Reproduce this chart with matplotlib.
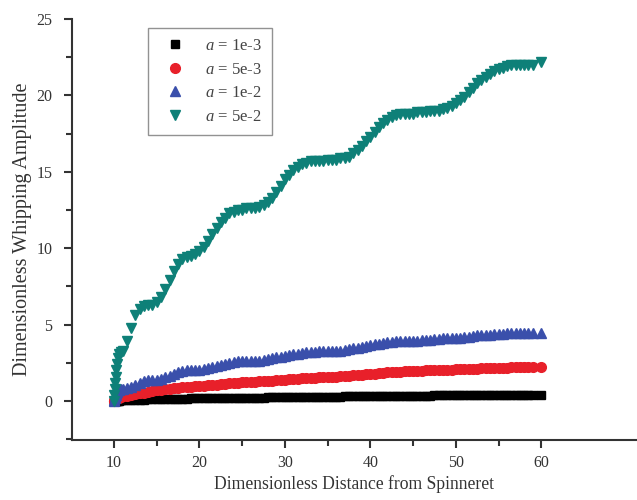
# Dimensionless whipping amplitude vs distance from spinneret
import matplotlib
matplotlib.use('Agg')
import matplotlib.pyplot as plt
from matplotlib.ticker import MultipleLocator, FixedLocator

plt.rcParams['font.family'] = ['Liberation Serif', 'DejaVu Serif']
plt.rcParams['mathtext.fontset'] = 'custom'
plt.rcParams['mathtext.it'] = 'Liberation Serif:italic'
plt.rcParams['mathtext.rm'] = 'Liberation Serif'

# shared distance values
x = [10.0, 10.05, 10.1, 10.15, 10.2, 10.25, 10.3, 10.45, 10.6, 10.8,
     11.0, 11.5, 12.0, 12.5, 13.0, 13.5, 14.0, 14.5, 15.0, 15.5,
     16.0, 16.5, 17.0, 17.5, 18.0, 18.5, 19.0, 19.5, 20.0, 20.5,
     21.0, 21.5, 22.0, 22.5, 23.0, 23.5, 24.0, 24.5, 25.0, 25.5,
     26.0, 26.5, 27.0, 27.5, 28.0, 28.5, 29.0, 29.5, 30.0, 30.5,
     31.0, 31.5, 32.0, 32.5, 33.0, 33.5, 34.0, 34.5, 35.0, 35.5,
     36.0, 36.5, 37.0, 37.5, 38.0, 38.5, 39.0, 39.5, 40.0, 40.5,
     41.0, 41.5, 42.0, 42.5, 43.0, 43.5, 44.0, 44.5, 45.0, 45.5,
     46.0, 46.5, 47.0, 47.5, 48.0, 48.5, 49.0, 49.5, 50.0, 50.5,
     51.0, 51.5, 52.0, 52.5, 53.0, 53.5, 54.0, 54.5, 55.0, 55.5,
     56.0, 56.5, 57.0, 57.5, 58.0, 58.5, 59.0,
     60.0]

amp_1e3 = [0, 0, 0, 0, 0, 0.01, 0.01, 0.02, 0.03, 0.04,
           0.05, 0.06, 0.07, 0.08, 0.09, 0.10, 0.11, 0.12, 0.12, 0.13,
           0.14, 0.14, 0.15, 0.15, 0.16, 0.16, 0.17, 0.17, 0.18, 0.18,
           0.19, 0.19, 0.20, 0.20, 0.20, 0.21, 0.21, 0.21, 0.22, 0.22,
           0.22, 0.23, 0.23, 0.23, 0.24, 0.24, 0.24, 0.25, 0.25, 0.25,
           0.26, 0.26, 0.26, 0.27, 0.27, 0.27, 0.28, 0.28, 0.28, 0.29,
           0.29, 0.29, 0.30, 0.30, 0.30, 0.31, 0.31, 0.31, 0.32, 0.32,
           0.32, 0.33, 0.33, 0.33, 0.34, 0.34, 0.34, 0.35, 0.35, 0.35,
           0.36, 0.36, 0.36, 0.37, 0.37, 0.37, 0.38, 0.38, 0.38, 0.39,
           0.39, 0.39, 0.40, 0.40, 0.40, 0.41, 0.41, 0.41, 0.42, 0.42,
           0.42, 0.42, 0.42, 0.42, 0.42, 0.42, 0.42,
           0.42]

amp_5e3 = [0, 0.03, 0.06, 0.09, 0.12, 0.15, 0.18, 0.20, 0.22, 0.25,
           0.30, 0.35, 0.40, 0.45, 0.50, 0.55, 0.60, 0.65, 0.70, 0.75,
           0.80, 0.82, 0.85, 0.88, 0.90, 0.92, 0.95, 0.96, 0.98, 1.00,
           1.02, 1.05, 1.08, 1.10, 1.12, 1.15, 1.18, 1.20, 1.22, 1.25,
           1.25, 1.27, 1.28, 1.30, 1.30, 1.32, 1.35, 1.37, 1.40, 1.42,
           1.44, 1.46, 1.48, 1.50, 1.52, 1.53, 1.55, 1.56, 1.58, 1.60,
           1.60, 1.62, 1.64, 1.66, 1.68, 1.70, 1.72, 1.75, 1.78, 1.80,
           1.82, 1.85, 1.87, 1.90, 1.90, 1.92, 1.94, 1.95, 1.96, 1.97,
           1.98, 2.00, 2.00, 2.02, 2.03, 2.04, 2.05, 2.06, 2.07, 2.08,
           2.09, 2.10, 2.11, 2.12, 2.13, 2.14, 2.15, 2.16, 2.17, 2.18,
           2.19, 2.20, 2.20, 2.20, 2.20, 2.20, 2.20,
           2.20]

amp_1e2 = [0, 0.10, 0.20, 0.30, 0.40, 0.50, 0.60, 0.70, 0.75, 0.80,
           0.80, 0.85, 0.95, 1.05, 1.20, 1.30, 1.35, 1.40, 1.40, 1.45,
           1.55, 1.65, 1.80, 1.90, 1.95, 2.00, 2.00, 2.00, 2.05, 2.10,
           2.15, 2.20, 2.30, 2.35, 2.40, 2.50, 2.55, 2.60, 2.60, 2.60,
           2.60, 2.65, 2.65, 2.70, 2.75, 2.80, 2.85, 2.90, 2.95, 3.00,
           3.05, 3.10, 3.15, 3.20, 3.20, 3.20, 3.25, 3.25, 3.25, 3.30,
           3.30, 3.30, 3.35, 3.40, 3.45, 3.50, 3.55, 3.60, 3.65, 3.70,
           3.75, 3.80, 3.85, 3.85, 3.90, 3.90, 3.90, 3.95, 3.95, 3.95,
           4.00, 4.00, 4.00, 4.05, 4.05, 4.10, 4.10, 4.10, 4.15, 4.15,
           4.20, 4.20, 4.25, 4.30, 4.30, 4.35, 4.35, 4.40, 4.40, 4.40,
           4.45, 4.45, 4.45, 4.45, 4.45, 4.45, 4.45,
           4.45]

amp_5e2 = [0, 0.4, 0.8, 1.2, 1.6, 2.0, 2.4, 2.8, 3.1, 3.2,
           3.3, 3.9, 4.8, 5.6, 6.0, 6.2, 6.3, 6.3, 6.5, 6.8,
           7.3, 7.9, 8.5, 9.0, 9.3, 9.4, 9.5, 9.6, 9.8, 10.1,
           10.5, 10.9, 11.3, 11.7, 12.0, 12.3, 12.4, 12.5, 12.5, 12.6,
           12.6, 12.6, 12.7, 12.8, 13.0, 13.3, 13.7, 14.1, 14.5, 14.8,
           15.1, 15.3, 15.5, 15.6, 15.7, 15.7, 15.7, 15.7, 15.8, 15.8,
           15.8, 15.9, 15.9, 16.0, 16.2, 16.4, 16.7, 17.0, 17.3, 17.6,
           17.9, 18.2, 18.4, 18.6, 18.7, 18.8, 18.8, 18.8, 18.8, 18.9,
           18.9, 18.9, 19.0, 19.0, 19.0, 19.1, 19.2, 19.3, 19.5, 19.7,
           19.9, 20.2, 20.5, 20.8, 21.0, 21.2, 21.4, 21.6, 21.7, 21.8,
           21.9, 22.0, 22.0, 22.0, 22.0, 22.0, 22.0,
           22.2]

fig = plt.figure(figsize=(6.37, 5.0), dpi=100)
ax = fig.add_axes([0.113, 0.12, 0.887, 0.842])

ax.plot(x, amp_1e3, ls='none', marker='s', ms=6, color='black', label=r'$a$ = 1e-3')
ax.plot(x, amp_5e3, ls='none', marker='o', ms=7, color='#e8202a', label=r'$a$ = 5e-3')
ax.plot(x, amp_1e2, ls='none', marker='^', ms=7, color='#3a4fab', label=r'$a$ = 1e-2')
ax.plot(x, amp_5e2, ls='none', marker='v', ms=7, color='#0e8078', label=r'$a$ = 5e-2')

ax.set_xlim(5.08, 71.2)
ax.set_ylim(-2.55, 25)
ax.set_xticks([10, 20, 30, 40, 50, 60])
ax.xaxis.set_minor_locator(FixedLocator([15, 25, 35, 45, 55]))
ax.set_yticks([0, 5, 10, 15, 20, 25])
ax.yaxis.set_minor_locator(MultipleLocator(2.5))

for s in ['top', 'right']:
    ax.spines[s].set_visible(False)
for s in ['left', 'bottom']:
    ax.spines[s].set_linewidth(1.5)
    ax.spines[s].set_color('#333333')
ax.tick_params(which='major', direction='out', length=6, width=1.5, color='#333333',
               labelsize=11.5, labelcolor='#333333')
ax.tick_params(axis='x', which='major', pad=5)
ax.tick_params(axis='y', which='major', pad=8)
ax.tick_params(which='minor', direction='out', length=4, width=1.5, color='#333333')

ax.set_xlabel('Dimensionless Distance from Spinneret', fontsize=12.7, color='#333333', labelpad=3)
ax.set_ylabel('Dimensionless Whipping Amplitude', fontsize=14.5, color='#333333', labelpad=3)

leg = ax.legend(loc='upper left', bbox_to_anchor=(140 / 637, 1 - 20 / 500),
                bbox_transform=fig.transFigure, fontsize=12,
                frameon=True, fancybox=False, edgecolor='#777777',
                handletextpad=0.8, borderpad=0.6, labelspacing=0.45)
leg.get_frame().set_linewidth(1.0)
for t in leg.get_texts():
    t.set_color('#444444')

fig.savefig('out.png', dpi=100)
